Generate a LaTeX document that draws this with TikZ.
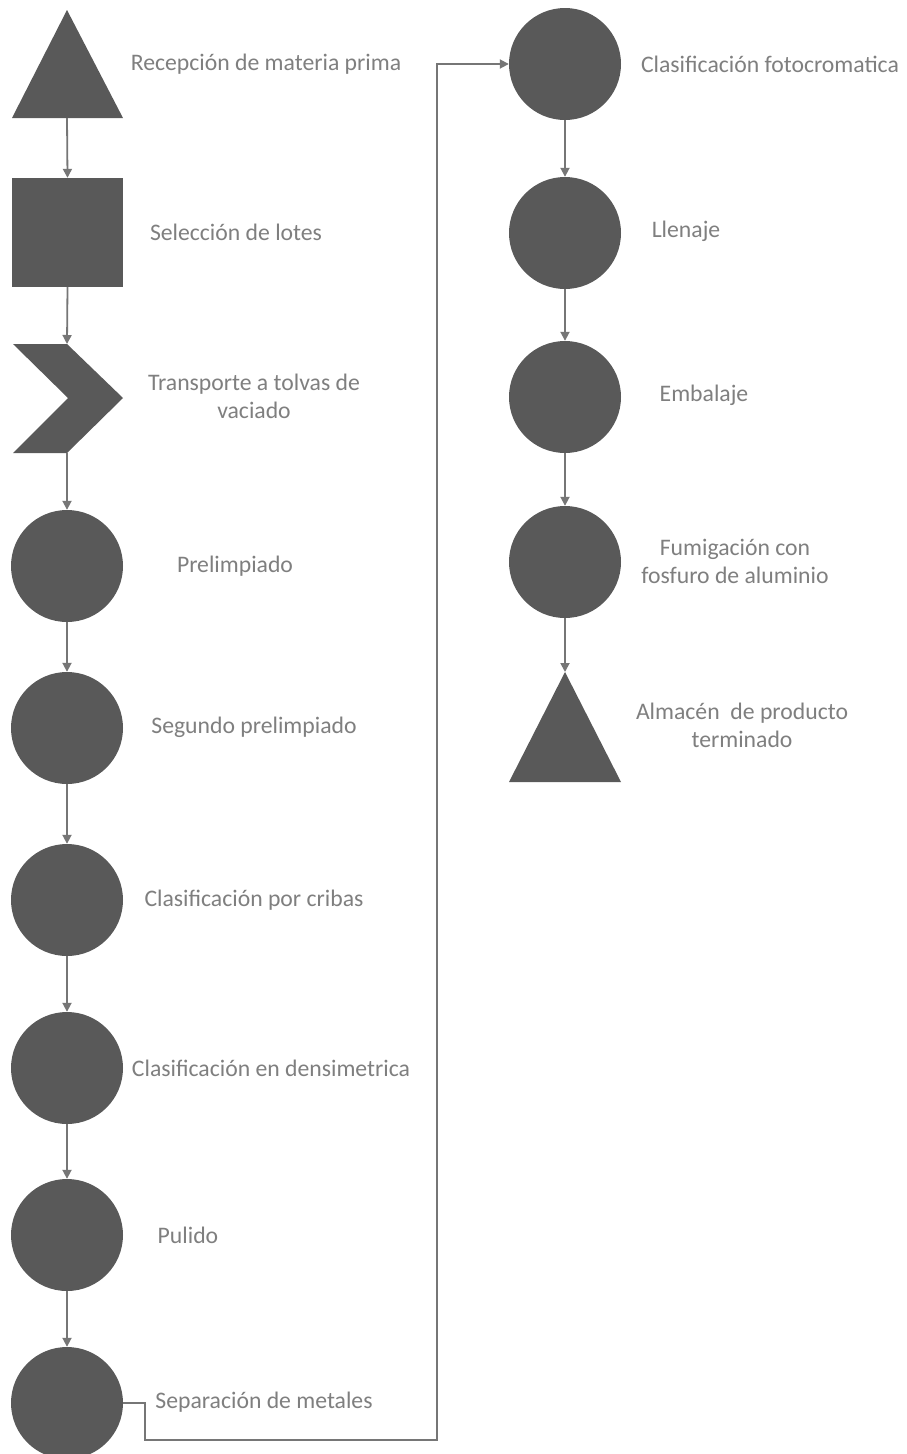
\documentclass[tikz,border=0pt]{standalone}
\usepackage{fontspec}
\setmainfont{Carlito}
\usetikzlibrary{arrows.meta}
\definecolor{shapegray}{HTML}{595959}
\definecolor{linegray}{HTML}{767676}
\definecolor{textgray}{HTML}{7F7F7F}
\begin{document}
\begin{tikzpicture}[x=1pt,y=-1pt,
  shp/.style={fill=shapegray,draw=none},
  proc/.style={circle,fill=shapegray,draw=none,minimum size=112pt,inner sep=0pt},
  box/.style={rectangle,fill=shapegray,draw=none,minimum width=111pt,minimum height=109pt,inner sep=0pt},
  arr/.style={draw=linegray,line width=1.8pt,-{Triangle[length=9pt,width=9pt]}},
  lbl/.style={text=textgray,font=\fontsize{23.7}{28}\selectfont,align=center,inner sep=0pt}]
\useasboundingbox (0,0) rectangle (907,1454);
\fill[white] (0,0) rectangle (907,1454);
\begin{scope}
\clip (0,0) rectangle (907,1454);
% left column
\fill[shp] (67,10) -- (123,118) -- (12,118) -- cycle;
\coordinate (t1s) at (67,118);
\node[box] (sq) at (67.5,232.5) {};
\fill[shp] (13,344) -- (67,344) -- (123,398) -- (67,453) -- (13,453) -- (68,398) -- cycle;
\coordinate (chn) at (67,344);
\coordinate (chs) at (67,453);
\node[proc] (c1) at (67,566) {};
\node[proc] (c2) at (67,728) {};
\node[proc] (c3) at (67,900) {};
\node[proc] (c4) at (67,1068) {};
\node[proc] (c5) at (67,1235) {};
\node[proc] (c6) at (67,1403) {};
% right column
\node[proc] (r1) at (565,64) {};
\node[proc] (r2) at (565,233) {};
\node[proc] (r3) at (565,397) {};
\node[proc] (r4) at (565,562) {};
\fill[shp] (565,672) -- (621,782) -- (509,782) -- cycle;
\coordinate (t2n) at (565,672);
% connectors
\draw[arr] (t1s) -- (sq.north);
\draw[arr] (sq.south) -- (chn);
\draw[arr] (chs) -- (c1.north);
\draw[arr] (c1.south) -- (c2.north);
\draw[arr] (c2.south) -- (c3.north);
\draw[arr] (c3.south) -- (c4.north);
\draw[arr] (c4.south) -- (c5.north);
\draw[arr] (c5.south) -- (c6.north);
\draw[arr] (c6.east) -- ++(22,0) |- (437,1440) |- (r1.west);
\draw[arr] (r1.south) -- (r2.north);
\draw[arr] (r2.south) -- (r3.north);
\draw[arr] (r3.south) -- (r4.north);
\draw[arr] (r4.south) -- (t2n);
\end{scope}
% labels
\node[lbl] (l1) at (266,64) {Recepción de materia prima};
\node[lbl] (l2) at (236,232) {Selección de lotes};
\node[lbl] (l3) at (254,396) {Transporte a tolvas de\\vaciado};
\node[lbl] (l4) at (235,566) {Prelimpiado};
\node[lbl] (l5) at (254,727) {Segundo prelimpiado};
\node[lbl] (l6) at (254,900) {Clasificación por cribas};
\node[lbl] (l7) at (271,1068) {Clasificación en densimetrica};
\node[lbl] (l8) at (188,1235) {Pulido};
\node[lbl] (l9) at (264,1402) {Separación de metales};
\node[lbl] (r1l) at (770,64) {Clasificación fotocromatica};
\node[lbl] (r2l) at (686,231) {Llenaje};
\node[lbl] (r3l) at (704,395) {Embalaje};
\node[lbl] (r4l) at (735,561) {Fumigación con\\fosfuro de aluminio};
\node[lbl] (r5l) at (742,725) {Almacén~ de producto\\terminado};
\end{tikzpicture}
\end{document}
